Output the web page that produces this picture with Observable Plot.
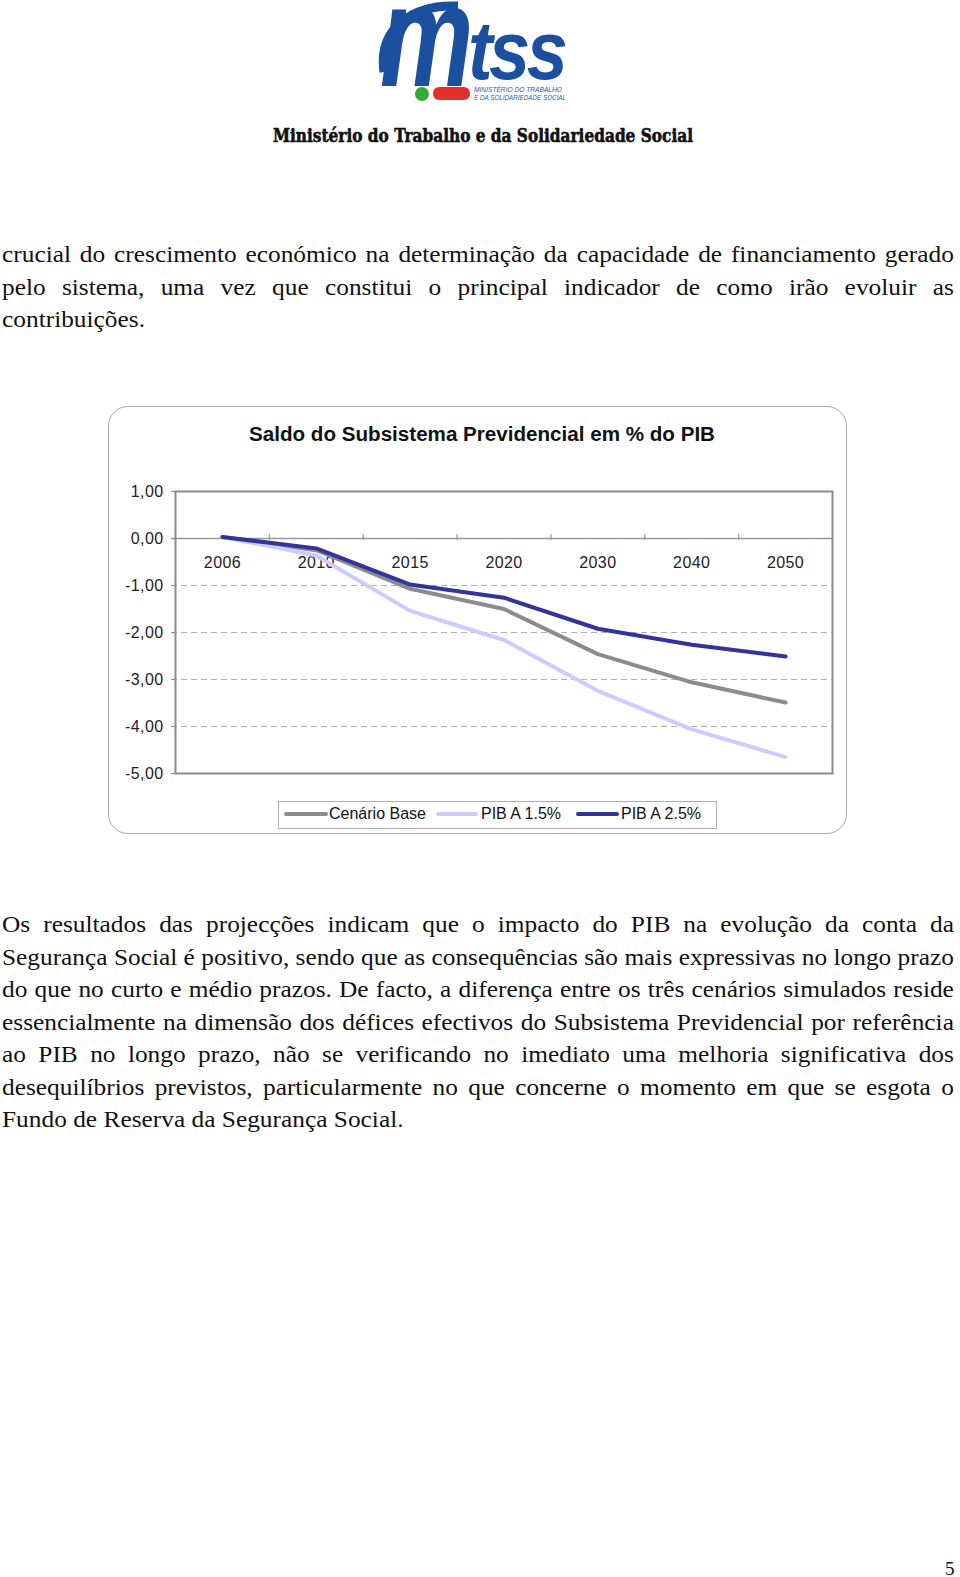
<!DOCTYPE html>
<html>
<head>
<meta charset="utf-8">
<script src="https://cdn.jsdelivr.net/npm/d3@7"></script>
<script src="https://cdn.jsdelivr.net/npm/@observablehq/plot@0.6"></script>
<style>
  html, body { margin: 0; padding: 0; background: #fff; }
  body { position: relative; width: 960px; height: 1577px; overflow: hidden; }
  .abs { position: absolute; white-space: nowrap; }
  .body-line { position: absolute; left: 2px; width: 863px; font-family: "Liberation Serif", serif; font-size: 23px; line-height: 32.5px; color: #111; white-space: nowrap; transform: scaleX(1.103); transform-origin: 0 0; }
  .just { text-align: justify; text-align-last: justify; }
  .heading { font-family: "DejaVu Serif", serif; font-weight: bold; font-size: 18px; line-height: 18px; color: #111; transform-origin: 0 0; -webkit-text-stroke: 0.6px #111; }
  .ctitle { font-family: "Liberation Sans", Arial, sans-serif; font-weight: bold; font-size: 20px; line-height: 20px; color: #111; transform-origin: 0 0; }
  .chartbox { position: absolute; left: 108px; top: 406px; width: 739px; height: 428px; box-sizing: border-box; border: 1px solid #a8a8a8; border-radius: 20px; }
  .legend { position: absolute; left: 278px; top: 801px; width: 439px; height: 28px; box-sizing: border-box; border: 1px solid #b0b0b0; background: #fff; font-family: "Liberation Sans", Arial, sans-serif; font-size: 16px; color: #111; }
  .sw { position: absolute; top: 10px; height: 4px; border-radius: 2px; }
  .lt { position: absolute; top: 3px; line-height: 18px; white-space: nowrap; }
  #plot { position: absolute; left: 108px; top: 470px; }
</style>
</head>
<body>
<!-- Logo -->
<svg class="abs" style="left:0;top:0" width="960" height="112">
  <path d="M384,72 C378,30 410,4 458,6" fill="none" stroke="#1d4f9f" stroke-width="9"/>
  <text transform="translate(380,86) scale(1.05,1.45)" font-family="Liberation Sans" font-weight="bold" font-style="italic" font-size="100" fill="#1d4f9f">m</text>
  <text transform="translate(468,79) scale(0.88,1)" font-family="Liberation Sans" font-weight="bold" font-style="italic" font-size="84" letter-spacing="-4" fill="#1d4f9f">tss</text>
  <circle cx="422" cy="94" r="7" fill="#39a935"/>
  <rect x="433" y="87" width="37" height="13" rx="6" fill="#e0302e"/>
  <text x="474" y="91.5" font-family="Liberation Sans" font-style="italic" font-size="7.5" textLength="88" lengthAdjust="spacingAndGlyphs" fill="#2a5aa8">MINISTÉRIO DO TRABALHO</text>
  <text x="474" y="100" font-family="Liberation Sans" font-style="italic" font-size="7.5" textLength="92" lengthAdjust="spacingAndGlyphs" fill="#2a5aa8">E DA SOLIDARIEDADE SOCIAL</text>
</svg>
<div id="heading" class="abs heading" style="left:273px;top:127px">Ministério do Trabalho e da Solidariedade Social</div>

<div class="body-line just" style="top:239px">crucial do crescimento económico na determinação da capacidade de financiamento gerado</div>
<div class="body-line just" style="top:271.5px">pelo sistema, uma vez que constitui o principal indicador de como irão evoluir as</div>
<div class="body-line" style="top:304px">contribuições.</div>

<div class="chartbox"></div>
<div id="ctitle" class="abs ctitle" style="left:249px;top:424px">Saldo do Subsistema Previdencial em % do PIB</div>
<div id="plot"></div>
<div class="legend">
  <div class="sw" style="left:5px;width:44px;background:#8c8c8c"></div>
  <div class="lt" style="left:50px">Cenário Base</div>
  <div class="sw" style="left:157px;width:42px;background:#ccccff"></div>
  <div class="lt" style="left:202px">PIB A 1.5%</div>
  <div class="sw" style="left:297px;width:43px;background:#333399"></div>
  <div class="lt" style="left:342px">PIB A 2.5%</div>
</div>

<div class="body-line just" style="top:909px">Os resultados das projecções indicam que o impacto do PIB na evolução da conta da</div>
<div class="body-line just" style="top:941.5px">Segurança Social é positivo, sendo que as consequências são mais expressivas no longo prazo</div>
<div class="body-line just" style="top:974px">do que no curto e médio prazos. De facto, a diferença entre os três cenários simulados reside</div>
<div class="body-line just" style="top:1006.5px">essencialmente na dimensão dos défices efectivos do Subsistema Previdencial por referência</div>
<div class="body-line just" style="top:1039px">ao PIB no longo prazo, não se verificando no imediato uma melhoria significativa dos</div>
<div class="body-line just" style="top:1071.5px">desequilíbrios previstos, particularmente no que concerne o momento em que se esgota o</div>
<div class="body-line" style="top:1104px">Fundo de Reserva da Segurança Social.</div>

<div class="abs" style="left:945px;top:1559px;font-family:'Liberation Serif',serif;font-size:19px;line-height:19px;color:#111">5</div>

<script>
// ---- Data ----
const years = ["2006", "2010", "2015", "2020", "2030", "2040", "2050"];
const seriesNames = ["Cenário Base", "PIB A 1.5%", "PIB A 2.5%"];
const cenarioBase = [0.03, -0.25, -1.07, -1.50, -2.46, -3.06, -3.49];
const pibA15 = [0.03, -0.36, -1.54, -2.16, -3.24, -4.06, -4.65];
const pibA25 = [0.03, -0.21, -0.98, -1.26, -1.92, -2.26, -2.51];
const yTicks = [1, 0, -1, -2, -3, -4, -5];
const gridValues = [-1, -2, -3, -4];
const seriesColors = ["#8c8c8c", "#ccccff", "#333399"];

const seriesValues = [cenarioBase, pibA15, pibA25];
const data = [];
seriesNames.forEach((name, s) => {
  seriesValues[s].forEach((v, i) => data.push({series: name, idx: i + 0.5, year: years[i], value: v}));
});
const labels = years.map((y, i) => ({year: y, idx: i + 0.5, value: 0}));
const bounds = d3.range(1, years.length);

const fmt = d => d.toFixed(2).replace(".", ",");

const chart = Plot.plot({
  width: 739,
  height: 316,
  marginTop: 21,
  marginBottom: 13,
  marginLeft: 67,
  marginRight: 15,
  style: {fontFamily: "'Liberation Sans', Arial, sans-serif", fontSize: "16px", color: "#222", background: "transparent", letterSpacing: "0.4px"},
  x: {type: "linear", domain: [0, years.length], axis: null},
  y: {domain: [-5, 1], axis: null},
  color: {domain: seriesNames, range: seriesColors},
  marks: [
    Plot.ruleY(gridValues, {stroke: "#b0b0b0", strokeWidth: 1, strokeDasharray: "6,4", insetLeft: -4}),
    Plot.ruleY([0], {stroke: "#9a9a9a", strokeWidth: 1.5, insetLeft: -4}),
    Plot.ruleX(bounds, {x: d => d, y1: 0, y2: 0, insetTop: -4, insetBottom: -2, stroke: "#9a9a9a", strokeWidth: 1.2}),
    Plot.frame({stroke: "#8a8a8a", strokeWidth: 2}),
    Plot.axisY(yTicks, {label: null, tickSize: 4, tickPadding: 8, tickFormat: fmt, stroke: "#8a8a8a", fill: "#222"}),
    Plot.text(labels, {x: "idx", y: "value", text: "year", dy: 24, fill: "#222"}),
    Plot.line(data, {x: "idx", y: "value", z: "series", stroke: "series", strokeWidth: 4, strokeLinecap: "round", strokeLinejoin: "round"})
  ]
});
document.getElementById("plot").appendChild(chart);

// Fit widths of heading and chart title to reference extents
function fitWidth(id, target) {
  const el = document.getElementById(id);
  const w = el.getBoundingClientRect().width;
  el.style.transform = `scaleX(${target / w})`;
}
fitWidth("heading", 420);
fitWidth("ctitle", 466);

// Ensure no body line overflows
document.querySelectorAll(".body-line").forEach(el => {
  if (el.scrollWidth > el.clientWidth + 0.5) {
    el.style.fontSize = (23 * el.clientWidth / el.scrollWidth) + "px";
  }
});
</script>
</body>
</html>
